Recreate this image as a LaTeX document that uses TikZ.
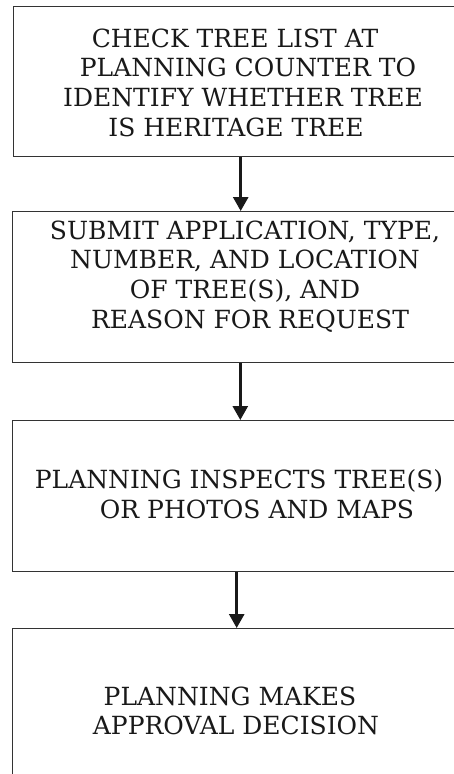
\documentclass[tikz,border=0pt]{standalone}
\usepackage{fontspec}
\setmainfont{DejaVu Serif}
\usetikzlibrary{arrows.meta}
\begin{document}
\begin{tikzpicture}[x=1pt,y=-1pt,
  box/.style={draw=black!80, line width=1.4pt, inner sep=0pt, anchor=north west, minimum width=457.5pt},
  txt/.style={align=center, font=\fontsize{25}{29.7}\selectfont, inner sep=0pt, text=black!90},
  arr/.style={line width=2.8pt, draw=black!90, -{Triangle[width=15pt,length=14pt]}}]
\useasboundingbox (0,0) rectangle (453,774);
\node[box, minimum height=150pt] (b1) at (12.5,5.5) {};
\node[box, minimum height=151pt] (b2) at (12,211) {};
\node[box, minimum height=151pt] (b3) at (11.5,420) {};
\node[box, minimum height=200pt] (b4) at (11.5,628) {};
\node[txt] (t1) at (240,82.5) {CHECK TREE LIST AT\hspace*{10pt}\\\hspace*{16pt}PLANNING COUNTER TO\\\hspace*{6pt}IDENTIFY WHETHER TREE\\IS HERITAGE TREE\hspace*{8pt}};
\node[txt] (t2) at (245,276.5) {SUBMIT APPLICATION, TYPE,\\NUMBER, AND LOCATION\hspace*{2pt}\\OF TREE(S), AND\hspace*{26pt}\\\hspace*{10pt}REASON FOR REQUEST};
\node[txt] (t3) at (248,494) {PLANNING INSPECTS TREE(S)\hspace*{18pt}\\\hspace*{18pt}OR PHOTOS AND MAPS};
\node[txt] (t4) at (233,711) {PLANNING MAKES\hspace*{6pt}\\\hspace*{6pt}APPROVAL DECISION};
\coordinate (c1) at (240.7,0);
\coordinate (c2) at (240.3,0);
\coordinate (c3) at (236.7,0);
\draw[arr] (c1 |- b1.south) -- (c1 |- b2.north);
\draw[arr] (c2 |- b2.south) -- (c2 |- b3.north);
\draw[arr] (c3 |- b3.south) -- (c3 |- b4.north);
\end{tikzpicture}
\end{document}
